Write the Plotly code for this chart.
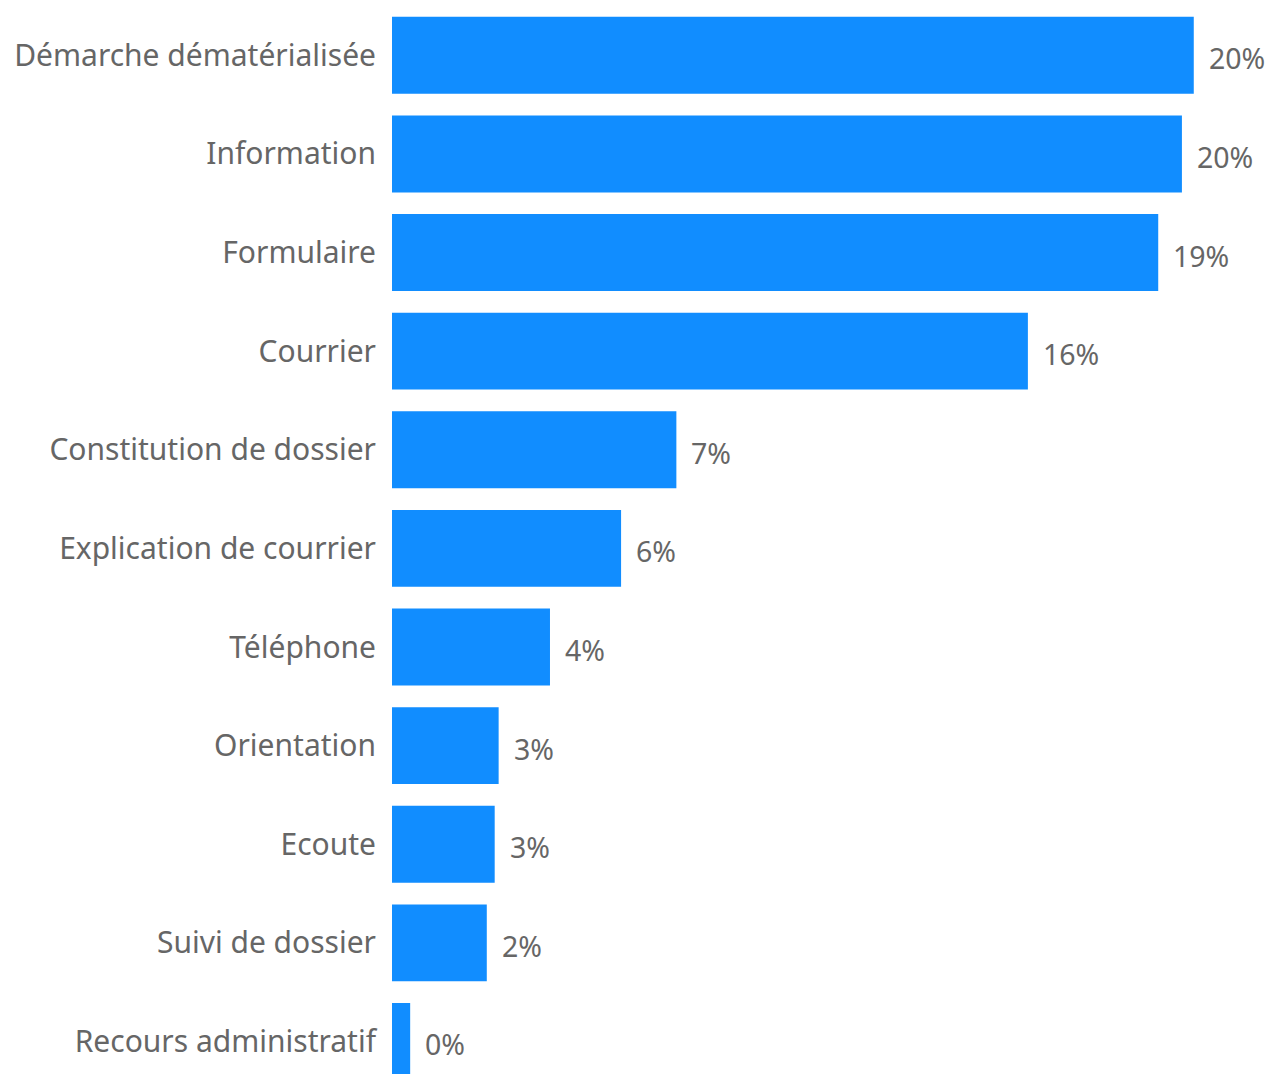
import plotly.graph_objects as go

categories = [
    "Démarche dématérialisée",
    "Information",
    "Formulaire",
    "Courrier",
    "Constitution de dossier",
    "Explication de courrier",
    "Téléphone",
    "Orientation",
    "Ecoute",
    "Suivi de dossier",
    "Recours administratif",
]
shares = [20.3, 20.0, 19.4, 16.1, 7.2, 5.8, 4.0, 2.7, 2.6, 2.4, 0.46]

BAR_COLOR = "#118DFF"
TEXT_COLOR = "#666666"
FONT = "Noto Sans, Open Sans, sans-serif"

fig = go.Figure(
    go.Bar(
        x=shares,
        y=categories,
        orientation="h",
        marker=dict(color=BAR_COLOR, line=dict(width=0)),
        hoverinfo="skip",
    )
)

for cat, val in zip(categories, shares):
    fig.add_annotation(
        x=val,
        y=cat,
        text=f"{val:.0f}%",
        showarrow=False,
        xanchor="left",
        yanchor="middle",
        xshift=13,
        yshift=-3,
        font=dict(family=FONT, size=28.5, color=TEXT_COLOR),
    )

fig.update_layout(
    width=1270,
    height=1074,
    margin=dict(l=392, r=0, t=6, b=0),
    paper_bgcolor="white",
    plot_bgcolor="white",
    bargap=0.22,
    showlegend=False,
    font=dict(family=FONT, color=TEXT_COLOR),
)
fig.update_xaxes(
    range=[0, 22.23],
    visible=False,
    showgrid=False,
    zeroline=False,
)
fig.update_yaxes(
    categoryorder="array",
    categoryarray=categories,
    range=[10.33, -0.5],
    showgrid=False,
    zeroline=False,
    showline=False,
    ticks="",
    ticklabelstandoff=15,
    tickfont=dict(family=FONT, size=30, color=TEXT_COLOR),
)

fig.write_html("out.html")
